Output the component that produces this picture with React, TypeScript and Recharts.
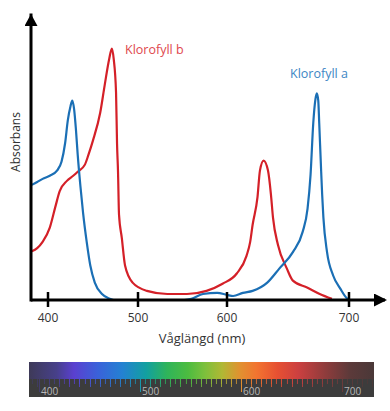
import { LineChart, Line, XAxis, YAxis } from "recharts";

// Klorofyll a (blue) – wavelength (nm) and absorbance (relative, 0-100)
const WAVELENGTH_A = [
	382, 388, 394, 402, 410, 415, 419, 422, 425, 427, 429, 431, 433, 436, 439, 443, 447, 452, 460, 468, 473, 552,
	560, 573, 589, 600, 605, 613, 621, 633, 643, 654, 662, 666, 668.5, 670.7, 672.5, 673.6, 674.8, 675.6, 677, 678,
	679, 682, 687, 693, 698, 700,
];
const ABSORB_A = [
	40.4, 41.4, 42.5, 43.6, 45.4, 48.5, 55, 63, 68, 70, 67, 60, 51, 40, 30.5, 20.4, 12.1, 6.1, 2.1, 0.5, 0, 0, 0.4,
	2.1, 2.5, 1.8, 1.4, 2.5, 3.2, 6.1, 11.1, 16.8, 23.9, 32, 44, 62, 70.5, 72.5, 70, 62, 47, 37, 29, 16.8, 8.6, 3.9,
	0.7, 0,
];

// Klorofyll b (red)
const WAVELENGTH_B = [
	382, 388, 394, 402, 408, 413, 421, 428, 433, 441, 445, 450, 458, 463, 468, 471, 473, 475.6, 476.7, 477.8, 478.9,
	482, 485.6, 494, 510, 533, 555, 577, 595, 608, 616, 619, 621, 625, 627, 630, 633.6, 636, 637.7, 641.8, 649, 654,
	666, 676, 686,
];
const ABSORB_B = [
	17.1, 18.2, 20.4, 25.4, 32.5, 38.2, 41.8, 43.6, 45, 47.5, 51, 56, 65.7, 75.4, 84.6, 88.2, 84.6, 72.9, 55, 45, 30,
	21.8, 12.1, 6.1, 3.2, 2.1, 2.1, 3.2, 5.7, 9.3, 15.5, 20.4, 26.4, 36.1, 45.4, 48.9, 45.4, 37.1, 28.9, 19.3, 11.1,
	6.8, 4.3, 2.1, 0.4,
];

const TICK_NM = [400, 500, 600, 700];
const SPECTRUM_TICKS = [400, 500, 600, 700];

// the drawn wavelength axis is not evenly spaced: where each tick sits along it
const TICK_STOPS = [17, 107, 196, 318];
const AXIS_LENGTH = 354;

const toAxis = (nm: number) => {
	let i = 0;
	if (nm > TICK_NM[2]) i = 2;
	else if (nm > TICK_NM[1]) i = 1;
	const k = (TICK_STOPS[i + 1] - TICK_STOPS[i]) / (TICK_NM[i + 1] - TICK_NM[i]);
	return TICK_STOPS[i] + (nm - TICK_NM[i]) * k;
};

const dataA = WAVELENGTH_A.map((nm, i) => ({ pos: toAxis(nm), abs: ABSORB_A[i] }));
const dataB = WAVELENGTH_B.map((nm, i) => ({ pos: toAxis(nm), abs: ABSORB_B[i] }));

const FONT = "'Open Sans', 'Noto Sans', sans-serif";
const BLUE = "#1b6fb5";
const RED = "#d42028";

const SPECTRUM =
	"linear-gradient(90deg, #3e3a58 0%, #47408a 8%, #5a40d0 13%, #3a62da 20%, #2481d2 27%, #12a0a0 34%, #2fb45a 40%, #4cbc40 46%, #7dc03c 51%, #b0b834 56%, #e09230 61%, #f27430 66%, #e65032 72%, #cc4040 78%, #8e3c3c 86%, #5c3a3a 93%, #4a3838 100%)";

function WaveTick(props: any) {
	const { x, y, index } = props;
	return (
		<g>
			<line x1={x} x2={x} y1={y - 8} y2={y + 7} stroke="#000" strokeWidth={2.5} />
			<text x={x} y={y + 22} textAnchor="middle" fontSize={12} fill="#333" fontFamily={FONT}>
				{TICK_NM[index]}
			</text>
		</g>
	);
}

function SpectrumBar() {
	const width = 345;
	const pxPerNm = 1.01;
	const start = 10;
	const tickMask = (period: number) =>
		`repeating-linear-gradient(90deg, transparent 0px, transparent ${period - 1}px, #000 ${period - 1}px, #000 ${period}px)`;
	return (
		<div style={{ position: "absolute", left: 29, top: 362, width, height: 35, background: "#3c3c3c" }}>
			<div style={{ position: "absolute", left: 0, top: 0, width, height: 17, background: SPECTRUM }} />
			{[
				{ period: 5 * pxPerNm, h: 5 },
				{ period: 10 * pxPerNm, h: 8 },
			].map((t, i) => (
				<div
					key={i}
					style={{
						position: "absolute",
						left: 0,
						top: 17,
						width,
						height: t.h,
						background: SPECTRUM,
						opacity: 0.8,
						WebkitMaskImage: tickMask(t.period),
						maskImage: tickMask(t.period),
						WebkitMaskPosition: `${(start % t.period) + 1}px 0`,
						maskPosition: `${(start % t.period) + 1}px 0`,
					}}
				/>
			))}
			{SPECTRUM_TICKS.map((nm) => (
				<div key={nm}>
					<div
						style={{
							position: "absolute",
							left: start + (nm - 400) * pxPerNm,
							top: 17,
							width: 1,
							height: 13,
							background: SPECTRUM,
							backgroundSize: `${width}px 13px`,
							backgroundPosition: `${-(start + (nm - 400) * pxPerNm)}px 0`,
						}}
					/>
					<div
						style={{
							position: "absolute",
							left: start + (nm - 400) * pxPerNm + 2,
							top: 23,
							fontSize: 10,
							lineHeight: "12px",
							color: "#b8b8b8",
							fontFamily: FONT,
						}}
					>
						{nm}
					</div>
				</div>
			))}
		</div>
	);
}

export default function App() {
	return (
		<div style={{ position: "absolute", left: 0, top: 0, width: 390, height: 411, background: "#fff", fontFamily: FONT }}>
			<LineChart width={390} height={350} margin={{ top: 15, right: 5, left: 21, bottom: 5 }}>
				<defs>
					<marker
						id="arrowX"
						viewBox="0 0 13 13"
						refX={11}
						refY={6.5}
						markerWidth={13}
						markerHeight={13}
						markerUnits="userSpaceOnUse"
						orient="auto"
					>
						<path d="M0,0 L13,6.5 L0,13 z" fill="#000" />
					</marker>
					<marker
						id="arrowY"
						viewBox="0 0 12 13"
						refX={11}
						refY={6.5}
						markerWidth={12}
						markerHeight={13}
						markerUnits="userSpaceOnUse"
						orient="auto-start-reverse"
					>
						<path d="M0,0 L12,6.5 L0,13 z" fill="#000" />
					</marker>
				</defs>
				<XAxis
					type="number"
					dataKey="pos"
					domain={[0, AXIS_LENGTH]}
					ticks={TICK_NM.map(toAxis)}
					interval={0}
					height={45}
					tickSize={0}
					tickMargin={0}
					tickLine={false}
					tick={<WaveTick />}
					axisLine={{ stroke: "#000", strokeWidth: 3, markerEnd: "url(#arrowX)" }}
					allowDataOverflow
				/>
				<YAxis
					type="number"
					domain={[0, 100]}
					width={10}
					tick={false}
					tickLine={false}
					axisLine={{ stroke: "#000", strokeWidth: 3, strokeLinecap: "square", markerStart: "url(#arrowY)" }}
					allowDataOverflow
				/>
				<Line
					data={dataB}
					dataKey="abs"
					type="monotone"
					stroke={RED}
					strokeWidth={2.2}
					dot={false}
					activeDot={false}
					isAnimationActive={false}
				/>
				<Line
					data={dataA}
					dataKey="abs"
					type="monotone"
					stroke={BLUE}
					strokeWidth={2.2}
					dot={false}
					activeDot={false}
					isAnimationActive={false}
				/>
				<text x={125} y={53.5} fontSize={12.5} fill="#e0474d" fontFamily={FONT}>
					Klorofyll b
				</text>
				<text x={290} y={77.5} fontSize={12.5} fill="#3d86c4" fontFamily={FONT}>
					Klorofyll a
				</text>
				<text
					x={15}
					y={142}
					transform="rotate(-90, 15, 142)"
					textAnchor="middle"
					dominantBaseline="central"
					fontSize={12}
					fill="#333"
					fontFamily={FONT}
				>
					Absorbans
				</text>
				<text x={202} y={343} textAnchor="middle" fontSize={13} fill="#333" fontFamily={FONT}>
					Våglängd (nm)
				</text>
			</LineChart>
			<SpectrumBar />
		</div>
	);
}
